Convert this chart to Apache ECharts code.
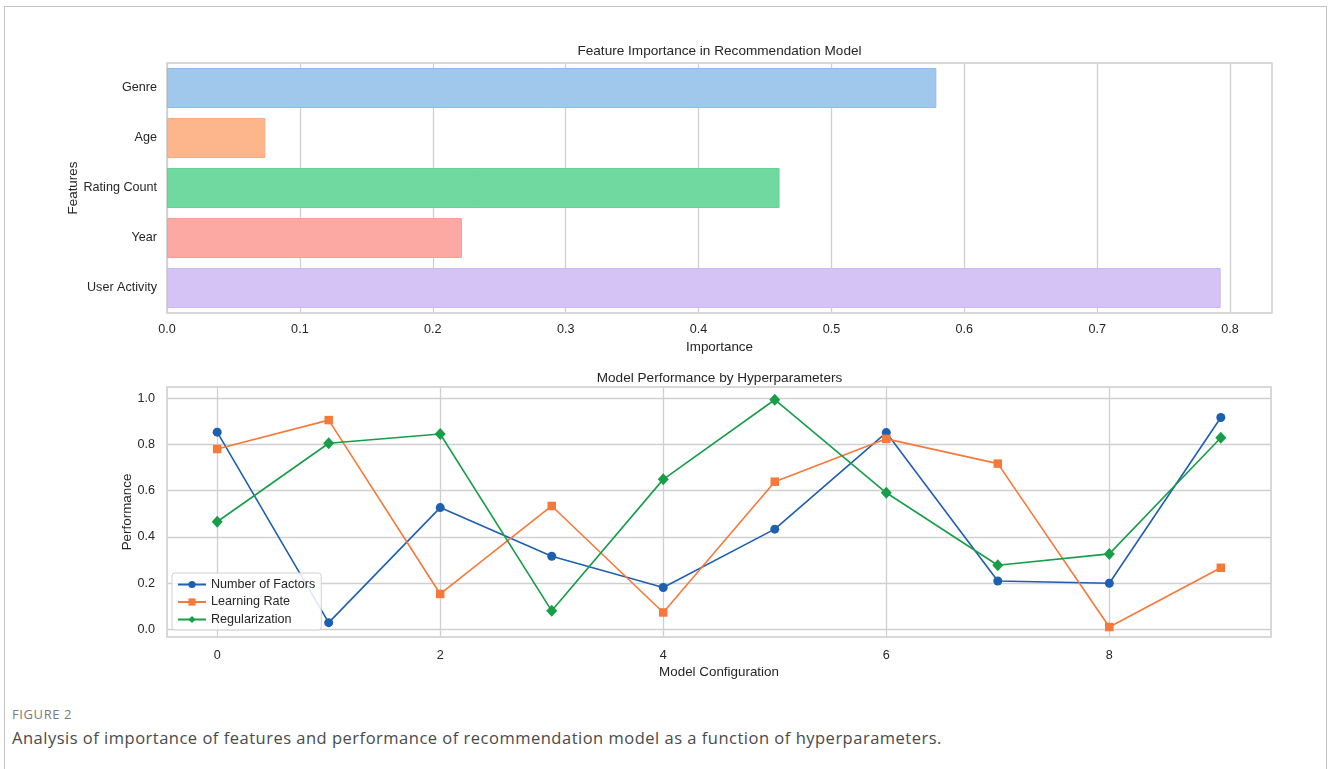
<!DOCTYPE html>
<html>
<head>
<meta charset="utf-8">
<script src="https://cdn.jsdelivr.net/npm/echarts@6/dist/echarts.min.js"></script>
<style>
  html, body { margin: 0; padding: 0; background: #fff; }
  #frame { position: absolute; left: 4px; top: 6px; width: 1321px; height: 800px; border: 1px solid #c4c4c4; border-bottom: none; }
  #chart { position: absolute; left: 0; top: 0; width: 1328px; height: 690px; }
  #figno { position: absolute; left: 12px; top: 705px; font-family: 'Open Sans', sans-serif; font-size: 13px; color: #7a7a7a; letter-spacing: 0.6px; }
  #caption { position: absolute; left: 12px; top: 726px; font-family: 'Open Sans', sans-serif; font-size: 16.5px; color: #4a4a4a; letter-spacing: 0.5px; }
</style>
</head>
<body>
<div id="frame"></div>
<div id="chart"></div>
<div id="figno">FIGURE 2</div>
<div id="caption">Analysis of importance of features and performance of recommendation model as a function of hyperparameters.</div>
<script>
// Feature importance (horizontal bars)
const features = ['Genre', 'Age', 'Rating Count', 'Year', 'User Activity'];
const importance = [0.579, 0.074, 0.461, 0.222, 0.793];
const importanceTicks = [0, 0.1, 0.2, 0.3, 0.4, 0.5, 0.6, 0.7, 0.8];

// Model performance per configuration
const configs = [0, 1, 2, 3, 4, 5, 6, 7, 8, 9];
const numFactors = [0.853, 0.030, 0.527, 0.317, 0.182, 0.434, 0.851, 0.210, 0.200, 0.916];
const learningRate = [0.780, 0.905, 0.154, 0.534, 0.074, 0.639, 0.824, 0.717, 0.011, 0.267];
const regularization = [0.466, 0.805, 0.845, 0.081, 0.649, 0.993, 0.591, 0.278, 0.327, 0.829];
const configTicks = [0, 2, 4, 6, 8];
const perfTicks = [0, 0.2, 0.4, 0.6, 0.8, 1.0];

const barFill = ['#9fc8ec', '#fdb68c', '#6fd9a0', '#fca9a3', '#d6c3f5'];
const barEdge = ['#8fbde8', '#fcaa7c', '#62d295', '#fb9c96', '#cdb8f2'];
const lineColors = ['#1f5fb0', '#f5793a', '#179e48'];

const FONT = "'Liberation Sans', Arial, sans-serif";
const TXT = '#262626';
const GRID = '#d0d0d0';

const chart = echarts.init(document.getElementById('chart'));

const pairs = vals => configs.map((c, i) => [c, vals[i]]);
const barItems = importance.map((v, i) => ({
  value: v,
  itemStyle: { color: barFill[i], borderColor: barEdge[i], borderWidth: 1 }
}));

chart.setOption({
  animation: false,
  textStyle: { fontFamily: FONT, color: TXT },
  graphic: [
    { type: 'text', x: 719.5, y: 51, style: { text: 'Feature Importance in Recommendation Model', font: '13.6px ' + FONT, fill: TXT, textAlign: 'center', textVerticalAlign: 'middle' } },
    { type: 'text', x: 719.5, y: 378, style: { text: 'Model Performance by Hyperparameters', font: '13.6px ' + FONT, fill: TXT, textAlign: 'center', textVerticalAlign: 'middle' } }
  ],
  grid: [
    { left: 167, top: 63, width: 1105, height: 250, show: true, borderColor: '#cccccc', borderWidth: 1.5, backgroundColor: '#fff' },
    { left: 167, top: 387, width: 1104, height: 250, show: true, borderColor: '#cccccc', borderWidth: 1.5, backgroundColor: '#fff' }
  ],
  xAxis: [
    {
      gridIndex: 0, type: 'value', min: 0, max: 0.8316,
      name: 'Importance', nameLocation: 'middle', nameGap: 28, nameMoveOverlap: false,
      nameTextStyle: { fontSize: 13.4, color: TXT, fontFamily: FONT },
      axisLine: { show: false }, axisTick: { show: false, customValues: importanceTicks },
      axisLabel: { customValues: importanceTicks, fontSize: 12.6, color: TXT, margin: 10, formatter: v => v.toFixed(1) },
      splitLine: { show: true, lineStyle: { color: GRID, width: 1.3 } }
    },
    {
      gridIndex: 1, type: 'value', min: -0.45, max: 9.45,
      name: 'Model Configuration', nameLocation: 'middle', nameGap: 29, nameMoveOverlap: false,
      nameTextStyle: { fontSize: 13.4, color: TXT, fontFamily: FONT },
      axisLine: { show: false }, axisTick: { show: false, customValues: configTicks },
      axisLabel: { customValues: configTicks, fontSize: 12.6, color: TXT, margin: 12, formatter: v => String(v) },
      splitLine: { show: true, lineStyle: { color: GRID, width: 1.3 } }
    }
  ],
  yAxis: [
    {
      gridIndex: 0, type: 'category', data: features, inverse: true,
      name: 'Features', nameLocation: 'middle', nameGap: 87, nameRotate: 90, nameMoveOverlap: false,
      nameTextStyle: { fontSize: 13.4, color: TXT, fontFamily: FONT },
      axisLine: { show: false }, axisTick: { show: false },
      axisLabel: { fontSize: 12.6, color: TXT, margin: 10 },
      splitLine: { show: false }
    },
    {
      gridIndex: 1, type: 'value', min: -0.032, max: 1.048,
      name: 'Performance', nameLocation: 'middle', nameGap: 33, nameRotate: 90, nameMoveOverlap: false,
      nameTextStyle: { fontSize: 13.4, color: TXT, fontFamily: FONT },
      axisLine: { show: false }, axisTick: { show: false, customValues: perfTicks },
      axisLabel: { customValues: perfTicks, fontSize: 12.6, color: TXT, margin: 12, formatter: v => v.toFixed(1) },
      splitLine: { show: true, lineStyle: { color: GRID, width: 1.3 } }
    }
  ],
  legend: {
    data: ['Number of Factors', 'Learning Rate', 'Regularization'],
    orient: 'vertical', left: 172, top: 573,
    backgroundColor: 'rgba(255,255,255,0.85)', borderColor: '#d0d0d0', borderWidth: 1, borderRadius: 3,
    padding: [5, 6, 4, 5], itemWidth: 28, itemHeight: 9, itemGap: 4.5,
    textStyle: { fontSize: 12.6, color: TXT, fontFamily: FONT }
  },
  series: [
    {
      type: 'bar', xAxisIndex: 0, yAxisIndex: 0, data: barItems, barWidth: '80%'
    },
    {
      name: 'Number of Factors', type: 'line', xAxisIndex: 1, yAxisIndex: 1, data: pairs(numFactors),
      symbol: 'circle', symbolSize: 9, lineStyle: { width: 1.6, color: lineColors[0] },
      itemStyle: { color: lineColors[0] }
    },
    {
      name: 'Learning Rate', type: 'line', xAxisIndex: 1, yAxisIndex: 1, data: pairs(learningRate),
      symbol: 'rect', symbolSize: 8.5, lineStyle: { width: 1.6, color: lineColors[1] },
      itemStyle: { color: lineColors[1] }
    },
    {
      name: 'Regularization', type: 'line', xAxisIndex: 1, yAxisIndex: 1, data: pairs(regularization),
      symbol: 'diamond', symbolSize: [11, 12], lineStyle: { width: 1.6, color: lineColors[2] },
      itemStyle: { color: lineColors[2] }
    }
  ]
});
</script>
</body>
</html>
